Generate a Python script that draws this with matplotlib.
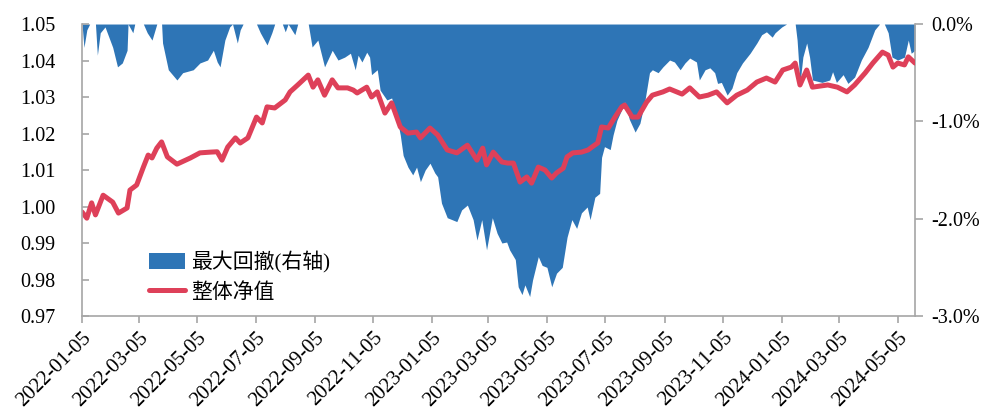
import pandas as pd
import matplotlib.pyplot as plt
from matplotlib.ticker import FuncFormatter

# 整体净值 (左轴)
nav_dates = ["2022-01-05", "2022-01-10", "2022-01-15", "2022-01-19", "2022-01-27", "2022-02-06",
             "2022-02-12", "2022-02-21", "2022-02-24", "2022-03-03", "2022-03-10", "2022-03-15",
             "2022-03-19", "2022-03-24", "2022-03-29", "2022-04-04", "2022-04-14", "2022-04-28",
             "2022-05-08", "2022-05-19", "2022-05-26", "2022-05-31", "2022-06-06", "2022-06-14",
             "2022-06-19", "2022-06-27", "2022-07-06", "2022-07-12", "2022-07-17", "2022-07-25",
             "2022-08-05", "2022-08-10", "2022-08-18", "2022-08-29", "2022-09-03", "2022-09-08",
             "2022-09-15", "2022-09-23", "2022-09-29", "2022-10-09", "2022-10-15", "2022-10-19",
             "2022-10-29", "2022-11-03", "2022-11-09", "2022-11-17", "2022-11-24", "2022-12-03",
             "2022-12-11", "2022-12-20", "2022-12-24", "2023-01-03", "2023-01-11", "2023-01-21",
             "2023-01-31", "2023-02-11", "2023-02-21", "2023-02-27", "2023-03-03", "2023-03-10",
             "2023-03-19", "2023-03-25", "2023-03-31", "2023-04-07", "2023-04-14", "2023-04-19",
             "2023-04-26", "2023-05-03", "2023-05-10", "2023-05-15", "2023-05-22", "2023-05-26",
             "2023-06-01", "2023-06-10", "2023-06-17", "2023-06-21", "2023-06-27", "2023-07-01",
             "2023-07-08", "2023-07-15", "2023-07-22", "2023-07-25", "2023-08-02", "2023-08-08",
             "2023-08-17", "2023-08-23", "2023-09-03", "2023-09-10", "2023-09-23", "2023-10-01",
             "2023-10-11", "2023-10-20", "2023-10-29", "2023-11-09", "2023-11-19", "2023-11-30",
             "2023-12-10", "2023-12-20", "2023-12-29", "2024-01-06", "2024-01-15", "2024-01-19",
             "2024-01-24", "2024-01-31", "2024-02-06", "2024-02-22", "2024-03-03", "2024-03-13",
             "2024-03-21", "2024-04-01", "2024-04-09", "2024-04-19", "2024-04-25", "2024-04-30",
             "2024-05-05", "2024-05-12", "2024-05-16", "2024-05-23"]
nav_values = [0.9985, 0.9968, 1.0010, 0.9977, 1.0031, 1.0012,
              0.9982, 0.9996, 1.0045, 1.0059, 1.0108, 1.0141,
              1.0133, 1.0160, 1.0177, 1.0136, 1.0116, 1.0133,
              1.0147, 1.0149, 1.0150, 1.0127, 1.0163, 1.0188,
              1.0174, 1.0188, 1.0245, 1.0229, 1.0273, 1.0270,
              1.0292, 1.0314, 1.0333, 1.0360, 1.0327, 1.0347,
              1.0305, 1.0347, 1.0325, 1.0325, 1.0319, 1.0311,
              1.0327, 1.0300, 1.0314, 1.0256, 1.0284, 1.0218,
              1.0201, 1.0204, 1.0188, 1.0215, 1.0196, 1.0155,
              1.0147, 1.0168, 1.0127, 1.0160, 1.0114, 1.0149,
              1.0122, 1.0119, 1.0119, 1.0067, 1.0081, 1.0064,
              1.0108, 1.0100, 1.0078, 1.0092, 1.0105, 1.0136,
              1.0147, 1.0149, 1.0155, 1.0163, 1.0174, 1.0218,
              1.0215, 1.0245, 1.0273, 1.0278, 1.0245, 1.0245,
              1.0286, 1.0305, 1.0314, 1.0322, 1.0308, 1.0325,
              1.0300, 1.0305, 1.0314, 1.0284, 1.0305, 1.0319,
              1.0341, 1.0352, 1.0341, 1.0374, 1.0382, 1.0393,
              1.0333, 1.0374, 1.0327, 1.0333, 1.0327, 1.0314,
              1.0333, 1.0366, 1.0393, 1.0423, 1.0415, 1.0382,
              1.0393, 1.0388, 1.0410, 1.0393]

# 最大回撤 (右轴, %)
dd_dates = ["2022-01-05", "2022-01-07", "2022-01-10", "2022-01-13", "2022-01-19", "2022-01-21",
            "2022-01-24", "2022-01-29", "2022-02-06", "2022-02-11", "2022-02-16", "2022-02-21",
            "2022-02-22", "2022-02-27", "2022-03-01", "2022-03-10", "2022-03-14", "2022-03-19",
            "2022-03-24", "2022-03-29", "2022-03-30", "2022-04-05", "2022-04-14", "2022-04-20",
            "2022-05-01", "2022-05-08", "2022-05-16", "2022-05-22", "2022-05-26", "2022-05-29",
            "2022-06-03", "2022-06-08", "2022-06-11", "2022-06-16", "2022-06-19", "2022-06-22",
            "2022-07-06", "2022-07-10", "2022-07-17", "2022-07-22", "2022-07-25", "2022-08-02",
            "2022-08-05", "2022-08-08", "2022-08-15", "2022-08-18", "2022-08-29", "2022-09-02",
            "2022-09-08", "2022-09-15", "2022-09-23", "2022-09-29", "2022-10-06", "2022-10-12",
            "2022-10-17", "2022-10-20", "2022-10-24", "2022-10-29", "2022-11-01", "2022-11-03",
            "2022-11-09", "2022-11-12", "2022-11-19", "2022-11-24", "2022-11-30", "2022-12-03",
            "2022-12-06", "2022-12-11", "2022-12-16", "2022-12-20", "2022-12-24", "2022-12-29",
            "2023-01-03", "2023-01-08", "2023-01-11", "2023-01-15", "2023-01-21", "2023-01-31",
            "2023-02-05", "2023-02-11", "2023-02-17", "2023-02-21", "2023-02-26", "2023-03-03",
            "2023-03-09", "2023-03-14", "2023-03-19", "2023-03-24", "2023-03-27", "2023-04-02",
            "2023-04-05", "2023-04-09", "2023-04-12", "2023-04-17", "2023-04-20", "2023-04-26",
            "2023-04-30", "2023-05-05", "2023-05-10", "2023-05-15", "2023-05-21", "2023-05-26",
            "2023-05-31", "2023-06-05", "2023-06-10", "2023-06-16", "2023-06-19", "2023-06-24",
            "2023-06-29", "2023-07-01", "2023-07-04", "2023-07-10", "2023-07-13", "2023-07-17",
            "2023-07-22", "2023-07-25", "2023-07-30", "2023-08-05", "2023-08-10", "2023-08-15",
            "2023-08-20", "2023-08-23", "2023-08-29", "2023-09-03", "2023-09-10", "2023-09-15",
            "2023-09-21", "2023-09-26", "2023-10-01", "2023-10-08", "2023-10-11", "2023-10-17",
            "2023-10-22", "2023-10-27", "2023-10-30", "2023-11-03", "2023-11-09", "2023-11-14",
            "2023-11-19", "2023-11-25", "2023-12-03", "2023-12-10", "2023-12-15", "2023-12-20",
            "2023-12-26", "2023-12-29", "2024-01-05", "2024-01-10", "2024-01-19", "2024-01-21",
            "2024-01-24", "2024-01-27", "2024-01-31", "2024-02-03", "2024-02-06", "2024-02-16",
            "2024-02-24", "2024-02-27", "2024-03-02", "2024-03-09", "2024-03-14", "2024-03-21",
            "2024-03-28", "2024-04-04", "2024-04-11", "2024-04-16", "2024-04-21", "2024-04-25",
            "2024-04-29", "2024-05-05", "2024-05-12", "2024-05-16", "2024-05-19", "2024-05-23"]
dd_values = [0.0, -0.24, -0.06, 0.0, 0.0, -0.32,
             -0.09, -0.03, -0.24, -0.44, -0.40, -0.27,
             0.0, -0.09, 0.0, 0.0, -0.09, -0.165,
             0.0, 0.0, -0.195, -0.47, -0.575, -0.50,
             -0.47, -0.40, -0.37, -0.27, -0.39, -0.44,
             -0.165, -0.03, 0.0, -0.195, -0.06, 0.0,
             0.0, -0.09, -0.215, -0.09, 0.0, 0.0,
             -0.08, 0.0, -0.11, 0.0, 0.0, -0.236,
             -0.165, -0.44, -0.27, -0.37, -0.34, -0.30,
             -0.47, -0.32, -0.39, -0.29, -0.34, -0.52,
             -0.47, -0.68, -0.78, -0.76, -0.99, -1.14,
             -1.35, -1.47, -1.55, -1.47, -1.62, -1.50,
             -1.43, -1.53, -1.57, -1.84, -1.99, -2.03,
             -1.91, -1.86, -2.01, -2.22, -2.01, -2.32,
             -1.99, -2.15, -2.25, -2.24, -2.32, -2.42,
             -2.70, -2.78, -2.68, -2.80, -2.63, -2.39,
             -2.48, -2.50, -2.70, -2.56, -2.50, -2.19,
             -2.01, -2.10, -1.94, -1.88, -2.01, -1.78,
             -1.74, -1.37, -1.26, -1.29, -1.14, -0.99,
             -0.88, -0.80, -0.98, -1.11, -1.02, -0.80,
             -0.50, -0.47, -0.50, -0.44, -0.37, -0.39,
             -0.47, -0.40, -0.35, -0.39, -0.575, -0.47,
             -0.45, -0.50, -0.61, -0.60, -0.73, -0.66,
             -0.50, -0.40, -0.30, -0.195, -0.11, -0.08,
             -0.135, -0.09, -0.03, 0.0, 0.0, -0.165,
             -0.61, -0.34, -0.195, -0.34, -0.575, -0.60,
             -0.575, -0.49, -0.60, -0.52, -0.61, -0.545,
             -0.37, -0.24, -0.06, 0.0, 0.0, -0.09,
             -0.34, -0.37, -0.34, -0.165, -0.30, -0.27]

tick_labels = ["2022-01-05", "2022-03-05", "2022-05-05", "2022-07-05", "2022-09-05",
               "2022-11-05", "2023-01-05", "2023-03-05", "2023-05-05", "2023-07-05",
               "2023-09-05", "2023-11-05", "2024-01-05", "2024-03-05", "2024-05-05"]
nav_ticks = [0.97, 0.98, 0.99, 1.00, 1.01, 1.02, 1.03, 1.04, 1.05]
dd_ticks = [0.0, -1.0, -2.0, -3.0]

plt.rcParams['font.family'] = ['Liberation Serif', 'Noto Sans CJK SC']
plt.rcParams['axes.unicode_minus'] = False

blue = '#2E75B6'
red = '#DE4059'
grey = '#A6A6A6'

fig = plt.figure(figsize=(9.86, 4.17), dpi=100)
ax = fig.add_axes([0.0832, 0.2422, 0.8448, 0.7002])
ax2 = ax.twinx()

nav_x = pd.to_datetime(nav_dates)
dd_x = pd.to_datetime(dd_dates)

dd_fill = ax2.fill_between(dd_x, dd_values, 0, color=blue, linewidth=0, label='最大回撤(右轴)')
nav_line, = ax.plot(nav_x, nav_values, color=red, linewidth=3.6, solid_joinstyle='round',
                    solid_capstyle='round', label='整体净值')

# 净值线画在回撤面积之上
ax.set_zorder(ax2.get_zorder() + 1)
ax.patch.set_visible(False)

ax.set_xlim(pd.Timestamp('2022-01-05'), pd.Timestamp('2024-05-23'))
ax.set_ylim(0.97, 1.05)
ax2.set_ylim(-3.0, 0.0)
ax.set_yticks(nav_ticks)
ax.yaxis.set_major_formatter(FuncFormatter(lambda v, p: f"{v:.2f}"))
ax2.set_yticks(dd_ticks)
ax2.yaxis.set_major_formatter(FuncFormatter(lambda v, p: f"{v:.1f}%"))

ax.set_xticks(pd.to_datetime(tick_labels))
ax.set_xticklabels(tick_labels, rotation=45, ha='right', rotation_mode='anchor')

for a in (ax, ax2):
    a.spines['top'].set_visible(False)
    for s in ('left', 'right', 'bottom'):
        a.spines[s].set_color(grey)
        a.spines[s].set_linewidth(1.2)
ax.spines['right'].set_visible(False)
ax2.spines['left'].set_visible(False)
ax2.spines['bottom'].set_visible(False)

ax.tick_params(axis='y', direction='in', length=5, width=1.2, color=grey, labelsize=14.5, pad=19)
ax.tick_params(axis='x', direction='out', length=5, width=1.2, color=grey, labelsize=15, pad=4)
ax2.tick_params(axis='y', direction='out', length=6, width=1.2, color=grey, labelsize=14.5, pad=6)

ax.legend([dd_fill, nav_line], ['最大回撤(右轴)', '整体净值'], loc='lower left',
          bbox_to_anchor=(0.058, -0.02), frameon=False, fontsize=15,
          handlelength=1.7, handleheight=0.8, handletextpad=0.3, labelspacing=0.45)

plt.savefig('out.png', dpi=100)
